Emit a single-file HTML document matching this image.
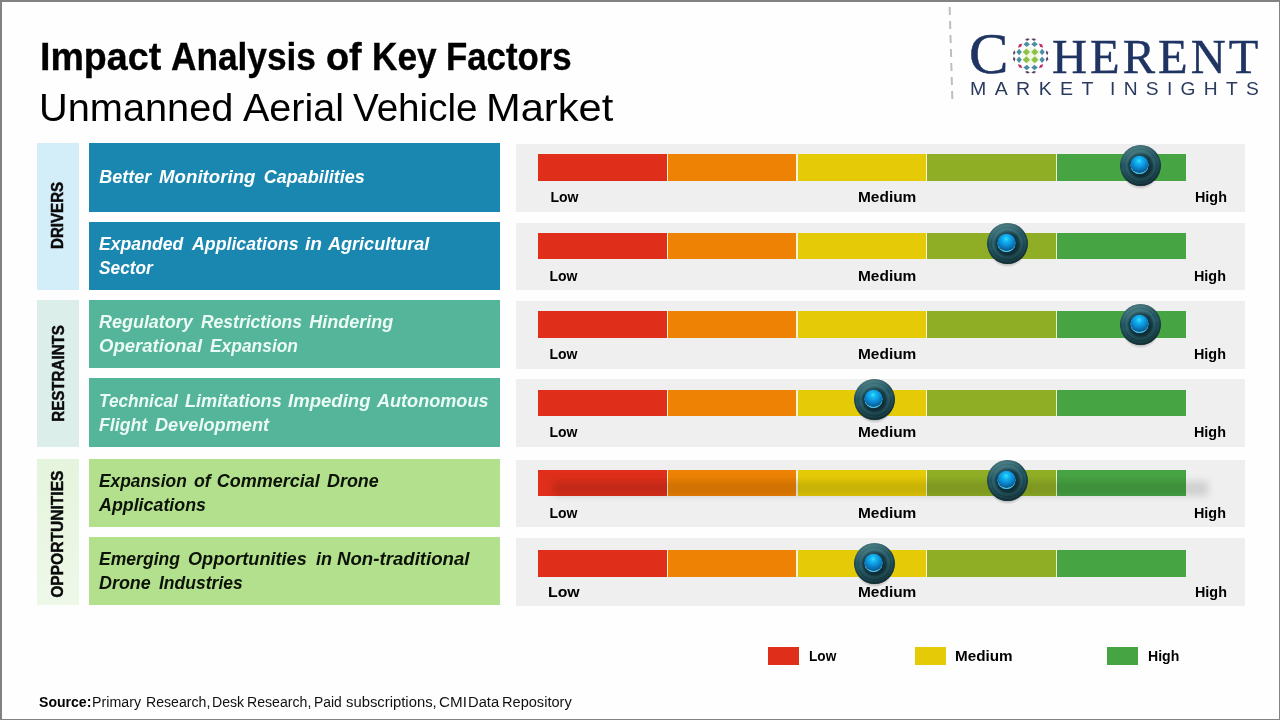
<!DOCTYPE html>
<html><head><meta charset="utf-8"><title>Impact Analysis of Key Factors</title>
<style>
html,body{margin:0;padding:0;font-family:'Liberation Sans',sans-serif}
body{width:1280px;height:720px;position:relative;overflow:hidden;background:#fefefe;font-family:'Liberation Sans',sans-serif}
.frame{position:absolute;left:0;top:0;width:1277px;height:717px;border-style:solid;border-color:#828282;border-width:2px 1px 1px 2px;z-index:9}
.b{position:absolute}
.tx{position:absolute;left:0;top:0;width:1280px;height:720px;will-change:transform}
.t{position:absolute;white-space:pre;transform-origin:0 0}
.v{position:absolute;width:0;height:0}
.v span{position:absolute;white-space:pre;font:bold 17px 'Liberation Sans',sans-serif;line-height:1;color:#0a0a0a;-webkit-text-stroke:.45px #0a0a0a}
.dash{position:absolute;left:949.5px;top:7.3px;width:1.9px;height:92.4px;background:repeating-linear-gradient(#bebebe 0 8px,transparent 8px 14.05px);transform:rotate(-1.68deg)}
.k{position:absolute;overflow:visible}
</style></head><body>
<div class="frame"></div>
<svg width="0" height="0" style="position:absolute"><defs>
<radialGradient id="kb" cx="0" cy="0" r="20.5" gradientUnits="userSpaceOnUse">
<stop offset="0" stop-color="#11323b"/><stop offset=".47" stop-color="#12353e"/><stop offset=".57" stop-color="#173f49"/><stop offset=".64" stop-color="#275a65"/><stop offset=".72" stop-color="#2b626d"/><stop offset=".79" stop-color="#1d4c57"/><stop offset=".86" stop-color="#265b66"/><stop offset=".94" stop-color="#1b4751"/><stop offset="1" stop-color="#173d47"/></radialGradient>
<linearGradient id="ko" x1="-6" y1="-20.5" x2="6" y2="20.5" gradientUnits="userSpaceOnUse">
<stop offset="0" stop-color="#a8dbd8" stop-opacity=".34"/><stop offset=".4" stop-color="#a8dbd8" stop-opacity="0"/><stop offset=".58" stop-color="#000" stop-opacity=".08"/><stop offset="1" stop-color="#000" stop-opacity=".38"/></linearGradient>
<radialGradient id="kball" cx="-1.4" cy="-4.6" r="12.5" gradientUnits="userSpaceOnUse">
<stop offset="0" stop-color="#30e6ff"/><stop offset=".2" stop-color="#18b9f2"/><stop offset=".5" stop-color="#0c93dc"/><stop offset=".8" stop-color="#0a6cab"/><stop offset="1" stop-color="#0b4a78"/></radialGradient>
<radialGradient id="ksh" cx=".5" cy=".5" r=".5"><stop offset="0" stop-color="#000" stop-opacity=".5"/><stop offset=".75" stop-color="#000" stop-opacity=".32"/><stop offset="1" stop-color="#000" stop-opacity="0"/></radialGradient>
<clipPath id="kc"><circle cx="-1" cy="-0.5" r="9.2"/></clipPath>
<g id="knob">
<ellipse cx="0" cy="3.5" rx="19.5" ry="20.5" fill="url(#ksh)"/>
<circle r="20.5" fill="url(#kb)"/><circle r="20.5" fill="url(#ko)"/>
<circle cx="-1" cy="-0.5" r="9.2" fill="#0a5f96"/><circle cx="-1" cy="-0.3" r="8.9" fill="#55cbe8"/>
<circle cx="-1" cy="-1.9" r="9.3" fill="url(#kball)" clip-path="url(#kc)"/>
</g>
</defs></svg>
<div class="b" style="left:37px;top:143px;width:42px;height:147px;background:#d3edf9;"></div>
<div class="b" style="left:37px;top:300px;width:42px;height:147px;background:#dceeea;"></div>
<div class="b" style="left:37px;top:459px;width:42px;height:145.5px;background:linear-gradient(#e5f4dc,#eef8e9);"></div>
<div class="b" style="left:89px;top:143px;width:411px;height:69px;background:#1a87b0;"></div>
<div class="b" style="left:89px;top:222px;width:411px;height:67.5px;background:#1a87b0;"></div>
<div class="b" style="left:89px;top:300px;width:411px;height:67.5px;background:#55b59a;"></div>
<div class="b" style="left:89px;top:378px;width:411px;height:68.75px;background:#55b59a;"></div>
<div class="b" style="left:89px;top:459px;width:411px;height:67.5px;background:#b3e08c;"></div>
<div class="b" style="left:89px;top:537px;width:411px;height:67.5px;background:#b3e08c;"></div>
<div class="b" style="left:516px;top:144px;width:729px;height:67.5px;background:#f0eff0;"></div>
<div class="b" style="left:538px;top:154px;width:128.60000000000002px;height:27px;background:#df2f1a;"></div>
<div class="b" style="left:667.8000000000001px;top:154px;width:128.4999999999999px;height:27px;background:#ee8204;"></div>
<div class="b" style="left:797.5px;top:154px;width:128.5px;height:27px;background:#e5cb07;"></div>
<div class="b" style="left:927.2px;top:154px;width:128.60000000000014px;height:27px;background:#90ae25;"></div>
<div class="b" style="left:1057.0px;top:154px;width:129.0px;height:27px;background:#47a443;"></div>
<div class="b" style="left:666.6px;top:154px;width:1.2000000000000455px;height:27px;background:#f8f3d2;"></div>
<div class="b" style="left:796.3px;top:154px;width:1.2000000000000455px;height:27px;background:#f8f3d2;"></div>
<div class="b" style="left:926.0px;top:154px;width:1.2000000000000455px;height:27px;background:#f8f3d2;"></div>
<div class="b" style="left:1055.8000000000002px;top:154px;width:1.199999999999818px;height:27px;background:#f8f3d2;"></div>
<div class="b" style="left:516px;top:223px;width:729px;height:66.5px;background:#f0eff0;"></div>
<div class="b" style="left:538px;top:233px;width:128.60000000000002px;height:26px;background:#df2f1a;"></div>
<div class="b" style="left:667.8000000000001px;top:233px;width:128.4999999999999px;height:26px;background:#ee8204;"></div>
<div class="b" style="left:797.5px;top:233px;width:128.5px;height:26px;background:#e5cb07;"></div>
<div class="b" style="left:927.2px;top:233px;width:128.60000000000014px;height:26px;background:#90ae25;"></div>
<div class="b" style="left:1057.0px;top:233px;width:129.0px;height:26px;background:#47a443;"></div>
<div class="b" style="left:666.6px;top:233px;width:1.2000000000000455px;height:26px;background:#f8f3d2;"></div>
<div class="b" style="left:796.3px;top:233px;width:1.2000000000000455px;height:26px;background:#f8f3d2;"></div>
<div class="b" style="left:926.0px;top:233px;width:1.2000000000000455px;height:26px;background:#f8f3d2;"></div>
<div class="b" style="left:1055.8000000000002px;top:233px;width:1.199999999999818px;height:26px;background:#f8f3d2;"></div>
<div class="b" style="left:516px;top:301px;width:729px;height:67.5px;background:#f0eff0;"></div>
<div class="b" style="left:538px;top:311px;width:128.60000000000002px;height:26.5px;background:#df2f1a;"></div>
<div class="b" style="left:667.8000000000001px;top:311px;width:128.4999999999999px;height:26.5px;background:#ee8204;"></div>
<div class="b" style="left:797.5px;top:311px;width:128.5px;height:26.5px;background:#e5cb07;"></div>
<div class="b" style="left:927.2px;top:311px;width:128.60000000000014px;height:26.5px;background:#90ae25;"></div>
<div class="b" style="left:1057.0px;top:311px;width:129.0px;height:26.5px;background:#47a443;"></div>
<div class="b" style="left:666.6px;top:311px;width:1.2000000000000455px;height:26.5px;background:#f8f3d2;"></div>
<div class="b" style="left:796.3px;top:311px;width:1.2000000000000455px;height:26.5px;background:#f8f3d2;"></div>
<div class="b" style="left:926.0px;top:311px;width:1.2000000000000455px;height:26.5px;background:#f8f3d2;"></div>
<div class="b" style="left:1055.8000000000002px;top:311px;width:1.199999999999818px;height:26.5px;background:#f8f3d2;"></div>
<div class="b" style="left:516px;top:379px;width:729px;height:67.5px;background:#f0eff0;"></div>
<div class="b" style="left:538px;top:390px;width:128.60000000000002px;height:25.5px;background:#df2f1a;"></div>
<div class="b" style="left:667.8000000000001px;top:390px;width:128.4999999999999px;height:25.5px;background:#ee8204;"></div>
<div class="b" style="left:797.5px;top:390px;width:128.5px;height:25.5px;background:#e5cb07;"></div>
<div class="b" style="left:927.2px;top:390px;width:128.60000000000014px;height:25.5px;background:#90ae25;"></div>
<div class="b" style="left:1057.0px;top:390px;width:129.0px;height:25.5px;background:#47a443;"></div>
<div class="b" style="left:666.6px;top:390px;width:1.2000000000000455px;height:25.5px;background:#f8f3d2;"></div>
<div class="b" style="left:796.3px;top:390px;width:1.2000000000000455px;height:25.5px;background:#f8f3d2;"></div>
<div class="b" style="left:926.0px;top:390px;width:1.2000000000000455px;height:25.5px;background:#f8f3d2;"></div>
<div class="b" style="left:1055.8000000000002px;top:390px;width:1.199999999999818px;height:25.5px;background:#f8f3d2;"></div>
<div class="b" style="left:516px;top:460px;width:729px;height:66.5px;background:#f0eff0;"></div>
<div class="b" style="left:538px;top:470px;width:128.60000000000002px;height:26px;background:#df2f1a;"></div>
<div class="b" style="left:667.8000000000001px;top:470px;width:128.4999999999999px;height:26px;background:#ee8204;"></div>
<div class="b" style="left:797.5px;top:470px;width:128.5px;height:26px;background:#e5cb07;"></div>
<div class="b" style="left:927.2px;top:470px;width:128.60000000000014px;height:26px;background:#90ae25;"></div>
<div class="b" style="left:1057.0px;top:470px;width:129.0px;height:26px;background:#47a443;"></div>
<div class="b" style="left:666.6px;top:470px;width:1.2000000000000455px;height:26px;background:#f8f3d2;"></div>
<div class="b" style="left:796.3px;top:470px;width:1.2000000000000455px;height:26px;background:#f8f3d2;"></div>
<div class="b" style="left:926.0px;top:470px;width:1.2000000000000455px;height:26px;background:#f8f3d2;"></div>
<div class="b" style="left:1055.8000000000002px;top:470px;width:1.199999999999818px;height:26px;background:#f8f3d2;"></div>
<div class="b" style="left:553px;top:480.5px;width:655px;height:15.5px;background:rgba(0,0,0,.125);filter:blur(3.5px)"></div>
<div class="b" style="left:516px;top:538px;width:729px;height:67.5px;background:#f0eff0;"></div>
<div class="b" style="left:538px;top:550px;width:128.60000000000002px;height:26.5px;background:#df2f1a;"></div>
<div class="b" style="left:667.8000000000001px;top:550px;width:128.4999999999999px;height:26.5px;background:#ee8204;"></div>
<div class="b" style="left:797.5px;top:550px;width:128.5px;height:26.5px;background:#e5cb07;"></div>
<div class="b" style="left:927.2px;top:550px;width:128.60000000000014px;height:26.5px;background:#90ae25;"></div>
<div class="b" style="left:1057.0px;top:550px;width:129.0px;height:26.5px;background:#47a443;"></div>
<div class="b" style="left:666.6px;top:550px;width:1.2000000000000455px;height:26.5px;background:#f8f3d2;"></div>
<div class="b" style="left:796.3px;top:550px;width:1.2000000000000455px;height:26.5px;background:#f8f3d2;"></div>
<div class="b" style="left:926.0px;top:550px;width:1.2000000000000455px;height:26.5px;background:#f8f3d2;"></div>
<div class="b" style="left:1055.8000000000002px;top:550px;width:1.199999999999818px;height:26.5px;background:#f8f3d2;"></div>
<div class="b" style="left:768px;top:646.5px;width:31px;height:18.5px;background:#df2f1a;"></div>
<div class="b" style="left:915px;top:646.5px;width:31px;height:18.5px;background:#e5cb07;"></div>
<div class="b" style="left:1106.6px;top:646.5px;width:31.100000000000136px;height:18.5px;background:#47a443;"></div>
<svg class="k" style="left:1116.0px;top:141.3px" width="49" height="53" viewBox="-24.5 -24.5 49 53"><use href="#knob"/></svg>
<svg class="k" style="left:982.75px;top:218.9px" width="49" height="53" viewBox="-24.5 -24.5 49 53"><use href="#knob"/></svg>
<svg class="k" style="left:1116.0px;top:299.6px" width="49" height="53" viewBox="-24.5 -24.5 49 53"><use href="#knob"/></svg>
<svg class="k" style="left:849.75px;top:374.5px" width="49" height="53" viewBox="-24.5 -24.5 49 53"><use href="#knob"/></svg>
<svg class="k" style="left:982.5px;top:456.0px" width="49" height="53" viewBox="-24.5 -24.5 49 53"><use href="#knob"/></svg>
<svg class="k" style="left:849.75px;top:538.5px" width="49" height="53" viewBox="-24.5 -24.5 49 53"><use href="#knob"/></svg>
<div class="tx">
<span class="t" style="font:bold 38px 'Liberation Sans',sans-serif;-webkit-text-stroke:.35px #000;line-height:1;left:39.57px;top:37.75px;color:#000;transform:scaleX(0.9892)">Impact</span>
<span class="t" style="font:bold 38px 'Liberation Sans',sans-serif;-webkit-text-stroke:.35px #000;line-height:1;left:171.30px;top:37.75px;color:#000;transform:scaleX(0.9271)">Analysis</span>
<span class="t" style="font:bold 38px 'Liberation Sans',sans-serif;-webkit-text-stroke:.35px #000;line-height:1;left:325.51px;top:37.75px;color:#000;transform:scaleX(0.9928)">of</span>
<span class="t" style="font:bold 38px 'Liberation Sans',sans-serif;-webkit-text-stroke:.35px #000;line-height:1;left:371.67px;top:37.75px;color:#000;transform:scaleX(0.9259)">Key</span>
<span class="t" style="font:bold 38px 'Liberation Sans',sans-serif;-webkit-text-stroke:.35px #000;line-height:1;left:445.94px;top:37.75px;color:#000;transform:scaleX(0.9159)">Factors</span>
<span class="t" style="font:38px 'Liberation Sans',sans-serif;line-height:1;left:39.36px;top:89.00px;color:#000;transform:scaleX(1.0457)">Unmanned</span>
<span class="t" style="font:38px 'Liberation Sans',sans-serif;line-height:1;left:243.00px;top:89.00px;color:#000;transform:scaleX(1.0397)">Aerial</span>
<span class="t" style="font:38px 'Liberation Sans',sans-serif;line-height:1;left:352.75px;top:89.00px;color:#000;transform:scaleX(1.0166)">Vehicle</span>
<span class="t" style="font:38px 'Liberation Sans',sans-serif;line-height:1;left:486.21px;top:89.00px;color:#000;transform:scaleX(1.0953)">Market</span>
<span class="t" style="font:italic bold 18px 'Liberation Sans',sans-serif;line-height:1;left:99.25px;top:168.00px;color:#fff;transform:scaleX(1.0000)">Better</span>
<span class="t" style="font:italic bold 18px 'Liberation Sans',sans-serif;line-height:1;left:159.24px;top:168.00px;color:#fff;transform:scaleX(1.0378)">Monitoring</span>
<span class="t" style="font:italic bold 18px 'Liberation Sans',sans-serif;line-height:1;left:263.75px;top:168.00px;color:#fff;transform:scaleX(1.0000)">Capabilities</span>
<span class="t" style="font:italic bold 18px 'Liberation Sans',sans-serif;line-height:1;left:99.26px;top:234.50px;color:#fff;transform:scaleX(0.9797)">Expanded</span>
<span class="t" style="font:italic bold 18px 'Liberation Sans',sans-serif;line-height:1;left:192.25px;top:234.50px;color:#fff;transform:scaleX(0.9860)">Applications</span>
<span class="t" style="font:italic bold 18px 'Liberation Sans',sans-serif;line-height:1;left:304.98px;top:234.50px;color:#fff;transform:scaleX(1.0667)">in</span>
<span class="t" style="font:italic bold 18px 'Liberation Sans',sans-serif;line-height:1;left:327.50px;top:234.50px;color:#fff;transform:scaleX(1.0025)">Agricultural</span>
<span class="t" style="font:italic bold 18px 'Liberation Sans',sans-serif;line-height:1;left:99.26px;top:258.50px;color:#fff;transform:scaleX(0.9602)">Sector</span>
<span class="t" style="font:italic bold 18px 'Liberation Sans',sans-serif;line-height:1;left:99.25px;top:312.50px;color:#ecfaf5;transform:scaleX(0.9974)">Regulatory</span>
<span class="t" style="font:italic bold 18px 'Liberation Sans',sans-serif;line-height:1;left:201.01px;top:312.50px;color:#ecfaf5;transform:scaleX(0.9709)">Restrictions</span>
<span class="t" style="font:italic bold 18px 'Liberation Sans',sans-serif;line-height:1;left:309.25px;top:312.50px;color:#ecfaf5;transform:scaleX(1.0000)">Hindering</span>
<span class="t" style="font:italic bold 18px 'Liberation Sans',sans-serif;line-height:1;left:98.73px;top:336.50px;color:#ecfaf5;transform:scaleX(1.0302)">Operational</span>
<span class="t" style="font:italic bold 18px 'Liberation Sans',sans-serif;line-height:1;left:210.26px;top:336.50px;color:#ecfaf5;transform:scaleX(0.9667)">Expansion</span>
<span class="t" style="font:italic bold 18px 'Liberation Sans',sans-serif;line-height:1;left:98.80px;top:391.50px;color:#ecfaf5;transform:scaleX(0.9571)">Technical</span>
<span class="t" style="font:italic bold 18px 'Liberation Sans',sans-serif;line-height:1;left:185.25px;top:391.50px;color:#ecfaf5;transform:scaleX(1.0079)">Limitations</span>
<span class="t" style="font:italic bold 18px 'Liberation Sans',sans-serif;line-height:1;left:287.74px;top:391.50px;color:#ecfaf5;transform:scaleX(1.0314)">Impeding</span>
<span class="t" style="font:italic bold 18px 'Liberation Sans',sans-serif;line-height:1;left:377.25px;top:391.50px;color:#ecfaf5;transform:scaleX(1.0045)">Autonomous</span>
<span class="t" style="font:italic bold 18px 'Liberation Sans',sans-serif;line-height:1;left:99.25px;top:415.50px;color:#ecfaf5;transform:scaleX(0.9848)">Flight</span>
<span class="t" style="font:italic bold 18px 'Liberation Sans',sans-serif;line-height:1;left:154.75px;top:415.50px;color:#ecfaf5;transform:scaleX(1.0088)">Development</span>
<span class="t" style="font:italic bold 18px 'Liberation Sans',sans-serif;line-height:1;left:99.26px;top:471.50px;color:#0c1208;transform:scaleX(0.9639)">Expansion</span>
<span class="t" style="font:italic bold 18px 'Liberation Sans',sans-serif;line-height:1;left:193.76px;top:471.50px;color:#0c1208;transform:scaleX(0.9861)">of</span>
<span class="t" style="font:italic bold 18px 'Liberation Sans',sans-serif;line-height:1;left:216.75px;top:471.50px;color:#0c1208;transform:scaleX(1.0000)">Commercial</span>
<span class="t" style="font:italic bold 18px 'Liberation Sans',sans-serif;line-height:1;left:327.25px;top:471.50px;color:#0c1208;transform:scaleX(0.9951)">Drone</span>
<span class="t" style="font:italic bold 18px 'Liberation Sans',sans-serif;line-height:1;left:99.25px;top:495.50px;color:#0c1208;transform:scaleX(0.9907)">Applications</span>
<span class="t" style="font:italic bold 18px 'Liberation Sans',sans-serif;line-height:1;left:99.26px;top:549.50px;color:#0c1208;transform:scaleX(0.9758)">Emerging</span>
<span class="t" style="font:italic bold 18px 'Liberation Sans',sans-serif;line-height:1;left:188.00px;top:549.50px;color:#0c1208;transform:scaleX(1.0064)">Opportunities</span>
<span class="t" style="font:italic bold 18px 'Liberation Sans',sans-serif;line-height:1;left:316.00px;top:549.50px;color:#0c1208;transform:scaleX(1.0000)">in</span>
<span class="t" style="font:italic bold 18px 'Liberation Sans',sans-serif;line-height:1;left:337.24px;top:549.50px;color:#0c1208;transform:scaleX(1.0352)">Non-traditional</span>
<span class="t" style="font:italic bold 18px 'Liberation Sans',sans-serif;line-height:1;left:99.25px;top:573.50px;color:#0c1208;transform:scaleX(0.9951)">Drone</span>
<span class="t" style="font:italic bold 18px 'Liberation Sans',sans-serif;line-height:1;left:158.51px;top:573.50px;color:#0c1208;transform:scaleX(0.9735)">Industries</span>
<span class="t" style="font:bold 14px 'Liberation Sans',sans-serif;line-height:1;left:550.50px;top:190.00px;color:#000;transform:scaleX(1.0000)">Low</span>
<span class="t" style="font:bold 14px 'Liberation Sans',sans-serif;line-height:1;left:858.40px;top:190.00px;color:#000;transform:scaleX(1.1029)">Medium</span>
<span class="t" style="font:bold 14px 'Liberation Sans',sans-serif;line-height:1;left:1195.47px;top:190.00px;color:#000;transform:scaleX(1.0256)">High</span>
<span class="t" style="font:bold 14px 'Liberation Sans',sans-serif;line-height:1;left:549.50px;top:269.00px;color:#000;transform:scaleX(1.0000)">Low</span>
<span class="t" style="font:bold 14px 'Liberation Sans',sans-serif;line-height:1;left:858.40px;top:269.00px;color:#000;transform:scaleX(1.1029)">Medium</span>
<span class="t" style="font:bold 14px 'Liberation Sans',sans-serif;line-height:1;left:1194.47px;top:269.00px;color:#000;transform:scaleX(1.0256)">High</span>
<span class="t" style="font:bold 14px 'Liberation Sans',sans-serif;line-height:1;left:549.50px;top:346.75px;color:#000;transform:scaleX(1.0000)">Low</span>
<span class="t" style="font:bold 14px 'Liberation Sans',sans-serif;line-height:1;left:858.40px;top:346.75px;color:#000;transform:scaleX(1.1029)">Medium</span>
<span class="t" style="font:bold 14px 'Liberation Sans',sans-serif;line-height:1;left:1194.47px;top:346.75px;color:#000;transform:scaleX(1.0256)">High</span>
<span class="t" style="font:bold 14px 'Liberation Sans',sans-serif;line-height:1;left:549.50px;top:424.50px;color:#000;transform:scaleX(1.0000)">Low</span>
<span class="t" style="font:bold 14px 'Liberation Sans',sans-serif;line-height:1;left:858.40px;top:424.50px;color:#000;transform:scaleX(1.1029)">Medium</span>
<span class="t" style="font:bold 14px 'Liberation Sans',sans-serif;line-height:1;left:1194.47px;top:424.50px;color:#000;transform:scaleX(1.0256)">High</span>
<span class="t" style="font:bold 14px 'Liberation Sans',sans-serif;line-height:1;left:549.50px;top:506.00px;color:#000;transform:scaleX(1.0000)">Low</span>
<span class="t" style="font:bold 14px 'Liberation Sans',sans-serif;line-height:1;left:858.40px;top:506.00px;color:#000;transform:scaleX(1.1029)">Medium</span>
<span class="t" style="font:bold 14px 'Liberation Sans',sans-serif;line-height:1;left:1194.47px;top:506.00px;color:#000;transform:scaleX(1.0256)">High</span>
<span class="t" style="font:bold 14px 'Liberation Sans',sans-serif;line-height:1;left:548.37px;top:584.50px;color:#000;transform:scaleX(1.1296)">Low</span>
<span class="t" style="font:bold 14px 'Liberation Sans',sans-serif;line-height:1;left:858.40px;top:584.50px;color:#000;transform:scaleX(1.1029)">Medium</span>
<span class="t" style="font:bold 14px 'Liberation Sans',sans-serif;line-height:1;left:1195.47px;top:584.50px;color:#000;transform:scaleX(1.0256)">High</span>
<span class="t" style="font:bold 14px 'Liberation Sans',sans-serif;line-height:1;left:809.03px;top:648.75px;color:#000;transform:scaleX(0.9722)">Low</span>
<span class="t" style="font:bold 14px 'Liberation Sans',sans-serif;line-height:1;left:954.81px;top:648.75px;color:#000;transform:scaleX(1.0882)">Medium</span>
<span class="t" style="font:bold 14px 'Liberation Sans',sans-serif;line-height:1;left:1147.59px;top:648.75px;color:#000;transform:scaleX(1.0051)">High</span>
<span class="t" style="font:bold 14px 'Liberation Sans',sans-serif;line-height:1;left:39.00px;top:695.00px;color:#000;transform:scaleX(1.0050)">Source:</span>
<span class="t" style="font:14px 'Liberation Sans',sans-serif;line-height:1;left:92.23px;top:695.00px;color:#111;transform:scaleX(1.0160)">Primary</span>
<span class="t" style="font:14px 'Liberation Sans',sans-serif;line-height:1;left:145.74px;top:695.00px;color:#111;transform:scaleX(1.0082)">Research,</span>
<span class="t" style="font:14px 'Liberation Sans',sans-serif;line-height:1;left:212.49px;top:695.00px;color:#111;transform:scaleX(1.0082)">Desk</span>
<span class="t" style="font:14px 'Liberation Sans',sans-serif;line-height:1;left:247.49px;top:695.00px;color:#111;transform:scaleX(1.0082)">Research,</span>
<span class="t" style="font:14px 'Liberation Sans',sans-serif;line-height:1;left:314.26px;top:695.00px;color:#111;transform:scaleX(0.9904)">Paid</span>
<span class="t" style="font:14px 'Liberation Sans',sans-serif;line-height:1;left:345.72px;top:695.00px;color:#111;transform:scaleX(1.0597)">subscriptions,</span>
<span class="t" style="font:14px 'Liberation Sans',sans-serif;line-height:1;left:438.69px;top:695.00px;color:#111;transform:scaleX(1.0851)">CMI</span>
<span class="t" style="font:14px 'Liberation Sans',sans-serif;line-height:1;left:468.18px;top:695.00px;color:#111;transform:scaleX(1.0531)">Data</span>
<span class="t" style="font:14px 'Liberation Sans',sans-serif;line-height:1;left:502.45px;top:695.00px;color:#111;transform:scaleX(1.0420)">Repository</span>
<span class="t" style="font:57px 'Liberation Serif',serif;-webkit-text-stroke:.5px #1f3462;line-height:1;left:968.93px;top:25.05px;color:#1f3462;transform:scaleX(1.0364)">C</span>
<span class="t" style="font:47.5px 'Liberation Serif',serif;letter-spacing:3px;-webkit-text-stroke:.4px #1f3462;line-height:1;left:1051.72px;top:34.25px;color:#1f3462;transform:scaleX(1.0204)">HERENT</span>
<span class="t" style="font:18.5px 'Liberation Sans',sans-serif;letter-spacing:8px;line-height:1;left:969.62px;top:79.60px;color:#2a3a5e;transform:scaleX(1.0542)">MARKET</span>
<span class="t" style="font:18.5px 'Liberation Sans',sans-serif;letter-spacing:8px;line-height:1;left:1110.28px;top:79.60px;color:#2a3a5e;transform:scaleX(1.0380)">INSIGHTS</span>
<div class="v" style="left:57.6px;top:215.6px"><span style="left:-38.12px;top:-8.12px;transform-origin:38.12px 8.12px;transform:rotate(-90deg) scaleX(0.8889)">DRIVERS</span></div>
<div class="v" style="left:57.6px;top:373.2px"><span style="left:-54.62px;top:-8.12px;transform-origin:54.62px 8.12px;transform:rotate(-90deg) scaleX(0.8904)">RESTRAINTS</span></div>
<div class="v" style="left:57.6px;top:534px"><span style="left:-69.50px;top:-8.12px;transform-origin:69.50px 8.12px;transform:rotate(-90deg) scaleX(0.9167)">OPPORTUNITIES</span></div>
</div>
<div class="dash"></div>
<svg style="position:absolute;left:0;top:0" width="1280" height="720" viewBox="0 0 1280 720">
<circle cx="1030.6" cy="55.9" r="9" fill="#f4f9e6"/>
<polygon points="0.00,-3.50 3.70,0.00 0.00,3.50 -3.70,0.00" fill="#8cc14a" transform="translate(1026.40,52.00) rotate(0)"/>
<polygon points="0.00,-3.50 3.70,0.00 0.00,3.50 -3.70,0.00" fill="#8cc14a" transform="translate(1026.40,59.80) rotate(0)"/>
<polygon points="0.00,-3.50 3.70,0.00 0.00,3.50 -3.70,0.00" fill="#8cc14a" transform="translate(1034.80,52.00) rotate(0)"/>
<polygon points="0.00,-3.50 3.70,0.00 0.00,3.50 -3.70,0.00" fill="#8cc14a" transform="translate(1034.80,59.80) rotate(0)"/>
<polygon points="0.00,-2.70 3.30,0.00 0.00,2.70 -3.30,0.00" fill="#4b8fa6" transform="translate(1026.70,44.30) rotate(0)"/>
<polygon points="0.00,-2.70 3.30,0.00 0.00,2.70 -3.30,0.00" fill="#4b8fa6" transform="translate(1026.70,67.50) rotate(0)"/>
<polygon points="0.00,-2.70 3.30,0.00 0.00,2.70 -3.30,0.00" fill="#4b8fa6" transform="translate(1034.50,44.30) rotate(0)"/>
<polygon points="0.00,-2.70 3.30,0.00 0.00,2.70 -3.30,0.00" fill="#4b8fa6" transform="translate(1034.50,67.50) rotate(0)"/>
<polygon points="0.00,-3.20 2.70,0.00 0.00,3.20 -2.70,0.00" fill="#4b8fa6" transform="translate(1019.10,52.00) rotate(0)"/>
<polygon points="0.00,-3.20 2.70,0.00 0.00,3.20 -2.70,0.00" fill="#4b8fa6" transform="translate(1019.10,59.80) rotate(0)"/>
<polygon points="0.00,-3.20 2.70,0.00 0.00,3.20 -2.70,0.00" fill="#4b8fa6" transform="translate(1042.10,52.00) rotate(0)"/>
<polygon points="0.00,-3.20 2.70,0.00 0.00,3.20 -2.70,0.00" fill="#4b8fa6" transform="translate(1042.10,59.80) rotate(0)"/>
<polygon points="0.00,-1.50 3.00,0.00 0.00,1.50 -3.00,0.00" fill="#c22a62" transform="translate(1020.10,45.60) rotate(-45.55090397921856)"/>
<polygon points="0.00,-1.50 3.00,0.00 0.00,1.50 -3.00,0.00" fill="#c22a62" transform="translate(1020.10,66.20) rotate(225.55090397921856)"/>
<polygon points="0.00,-1.50 3.00,0.00 0.00,1.50 -3.00,0.00" fill="#c22a62" transform="translate(1041.10,45.60) rotate(45.55090397921857)"/>
<polygon points="0.00,-1.50 3.00,0.00 0.00,1.50 -3.00,0.00" fill="#c22a62" transform="translate(1041.10,66.20) rotate(134.44909602078144)"/>
<polygon points="0.00,-1.20 2.60,0.00 0.00,1.20 -2.60,0.00" fill="#5a4560" transform="translate(1027.40,39.50) rotate(-11.040940180323744)"/>
<polygon points="0.00,-1.20 2.60,0.00 0.00,1.20 -2.60,0.00" fill="#5a4560" transform="translate(1027.40,72.30) rotate(191.04094018032373)"/>
<polygon points="0.00,-1.20 2.60,0.00 0.00,1.20 -2.60,0.00" fill="#5a4560" transform="translate(1033.80,39.50) rotate(11.04094018032373)"/>
<polygon points="0.00,-1.20 2.60,0.00 0.00,1.20 -2.60,0.00" fill="#5a4560" transform="translate(1033.80,72.30) rotate(168.95905981967627)"/>
<polygon points="0.00,-1.20 2.60,0.00 0.00,1.20 -2.60,0.00" fill="#5a4560" transform="translate(1014.20,52.70) rotate(-78.95905981967627)"/>
<polygon points="0.00,-1.20 2.60,0.00 0.00,1.20 -2.60,0.00" fill="#5a4560" transform="translate(1014.20,59.10) rotate(258.95905981967627)"/>
<polygon points="0.00,-1.20 2.60,0.00 0.00,1.20 -2.60,0.00" fill="#5a4560" transform="translate(1047.00,52.70) rotate(78.95905981967627)"/>
<polygon points="0.00,-1.20 2.60,0.00 0.00,1.20 -2.60,0.00" fill="#5a4560" transform="translate(1047.00,59.10) rotate(101.04094018032373)"/>
</svg>
</body></html>
